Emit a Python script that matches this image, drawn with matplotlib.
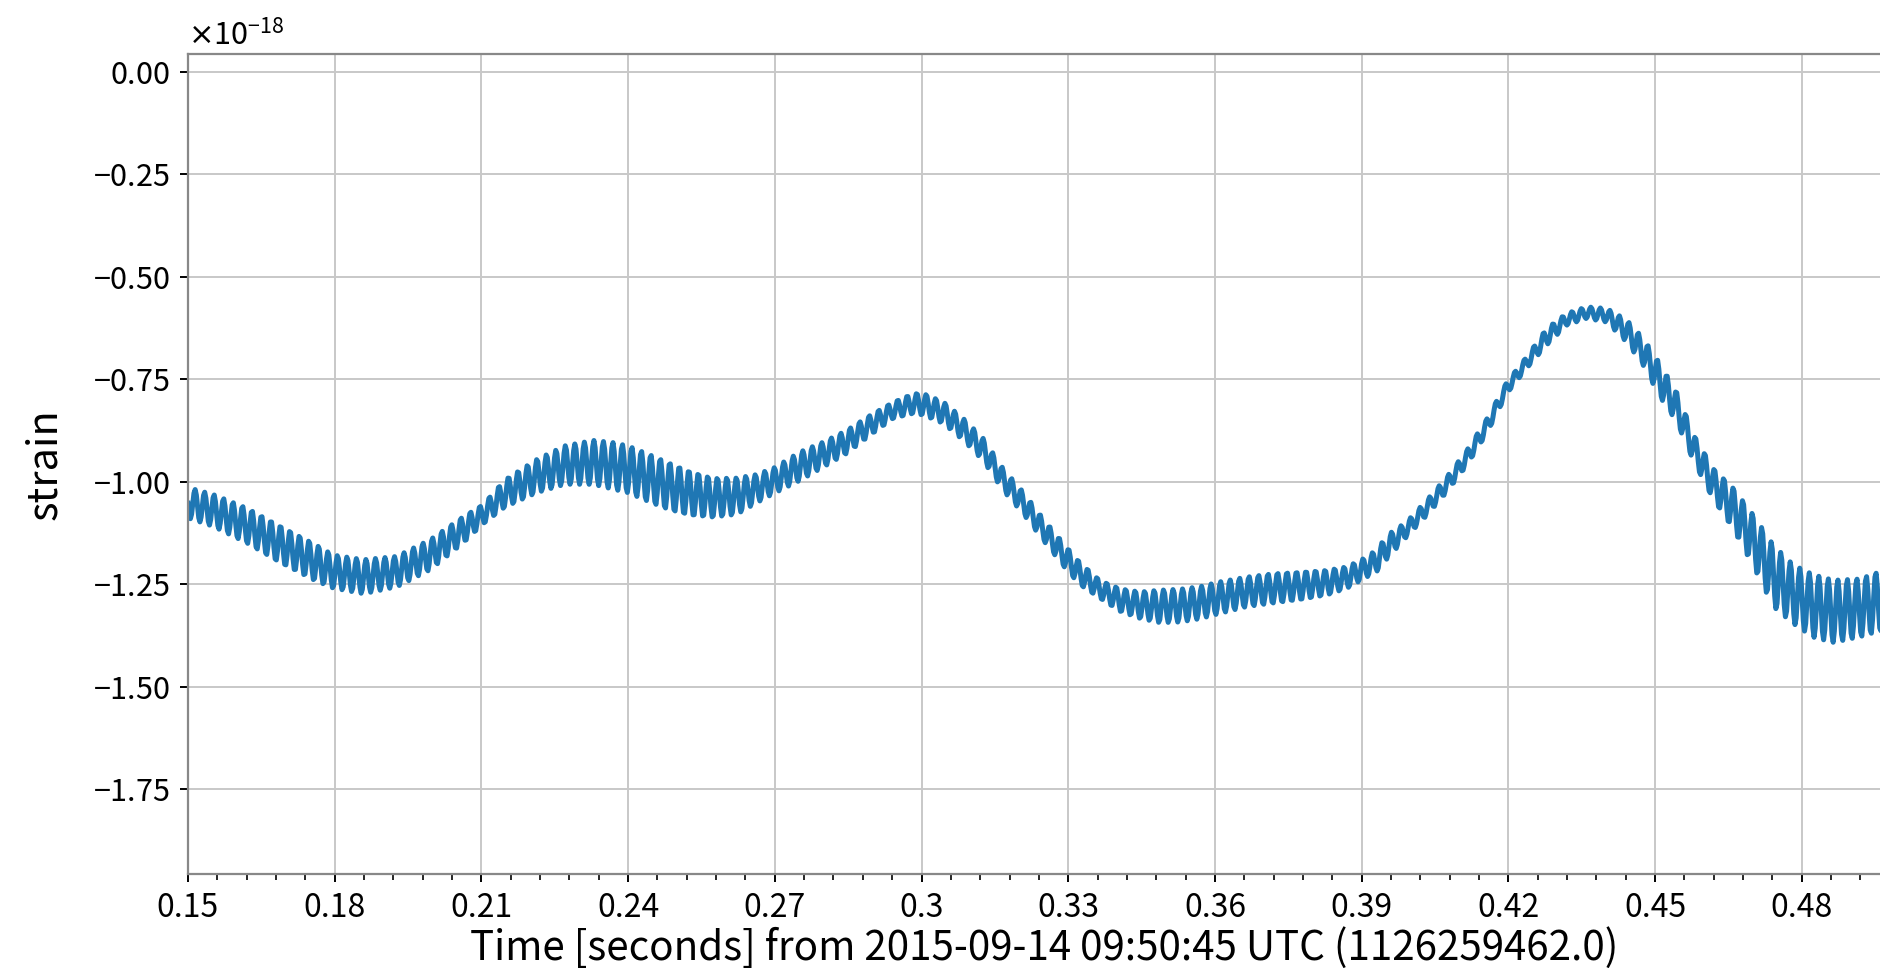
import matplotlib
matplotlib.use("Agg")
import matplotlib.pyplot as plt
from matplotlib.ticker import MultipleLocator, FuncFormatter, ScalarFormatter
import numpy as np

plt.rcParams['font.family'] = ['Noto Sans CJK JP', 'DejaVu Sans']

# envelope of the strain trace (units of 1e-18)
knot_t = [0.1500, 0.1552, 0.1620, 0.1688, 0.1756, 0.1797, 0.1859, 0.1927, 0.1995, 0.2063,
          0.2103, 0.2148, 0.2213, 0.2271, 0.2329, 0.2369, 0.2400, 0.2445, 0.2486, 0.2527,
          0.2574, 0.2622, 0.2663, 0.2700, 0.2752, 0.2799, 0.2847, 0.2895, 0.2942, 0.2983,
          0.3004, 0.3045, 0.3086, 0.3126, 0.3167, 0.3208, 0.3249, 0.3297, 0.3324, 0.3365,
          0.3406, 0.3447, 0.3488, 0.3529, 0.3569, 0.3610, 0.3665, 0.3719, 0.3774, 0.3829,
          0.3870, 0.3911, 0.3934, 0.3951, 0.3992, 0.4033, 0.4074, 0.4115, 0.4156, 0.4197,
          0.4237, 0.4278, 0.4319, 0.4360, 0.4401, 0.4442, 0.4476, 0.4510, 0.4544, 0.4580,
          0.4619, 0.4660, 0.4701, 0.4742, 0.4783, 0.4824, 0.4865, 0.4919, 0.4956, 0.4975]
upper = [-1.008, -1.025, -1.057, -1.100, -1.143, -1.172, -1.184, -1.176, -1.135, -1.078,
         -1.049, -0.988, -0.939, -0.906, -0.893, -0.898, -0.906, -0.927, -0.947, -0.967,
         -0.984, -0.984, -0.976, -0.959, -0.921, -0.897, -0.868, -0.831, -0.799, -0.778,
         -0.778, -0.799, -0.840, -0.888, -0.962, -1.019, -1.084, -1.153, -1.190, -1.234,
         -1.254, -1.262, -1.258, -1.256, -1.250, -1.238, -1.226, -1.217, -1.213, -1.209,
         -1.201, -1.177, -1.156, -1.125, -1.092, -1.039, -0.982, -0.917, -0.840, -0.750,
         -0.689, -0.620, -0.583, -0.567, -0.571, -0.599, -0.644, -0.705, -0.774, -0.880,
         -0.960, -1.008, -1.074, -1.148, -1.197, -1.221, -1.234, -1.230, -1.213, -1.205]
lower = [-1.094, -1.115, -1.156, -1.205, -1.246, -1.266, -1.279, -1.262, -1.221, -1.156,
         -1.110, -1.069, -1.033, -1.012, -1.012, -1.024, -1.033, -1.057, -1.077, -1.090,
         -1.094, -1.086, -1.057, -1.033, -1.002, -0.970, -0.937, -0.893, -0.852, -0.840,
         -0.844, -0.864, -0.905, -0.954, -1.027, -1.084, -1.149, -1.222, -1.258, -1.291,
         -1.323, -1.340, -1.350, -1.348, -1.340, -1.327, -1.311, -1.303, -1.295, -1.283,
         -1.266, -1.238, -1.222, -1.195, -1.140, -1.088, -1.031, -0.966, -0.888, -0.791,
         -0.730, -0.673, -0.624, -0.607, -0.616, -0.665, -0.722, -0.799, -0.860, -0.960,
         -1.050, -1.123, -1.213, -1.311, -1.352, -1.385, -1.398, -1.385, -1.373, -1.370]
ripple_hz = 515.0      # fast ripple, counted between grid lines
ripple_peak_t = 0.2097  # one ripple crest
sample_rate = 4096

t = np.arange(0.15, 0.4975, 1.0 / sample_rate)
hi = np.interp(t, knot_t, upper)
lo = np.interp(t, knot_t, lower)
mid = (hi + lo) / 2
half = (hi - lo) / 2 - 0.006  # edges were read at the outside of the stroke
strain = (mid + half * np.cos(2 * np.pi * ripple_hz * (t - ripple_peak_t))) * 1e-18

fig = plt.figure(figsize=(9.4, 4.84), dpi=200)
ax = fig.add_axes([0.1, 0.0971, 0.9104, 0.8471])
ax.plot(t, strain, color='#1f77b4', lw=1.8)

ax.set_xlim(0.15, 0.50)
ax.set_ylim(-1.957e-18, 0.044e-18)
ax.xaxis.set_major_locator(MultipleLocator(0.03))
ax.xaxis.set_minor_locator(MultipleLocator(0.006))
ax.xaxis.set_major_formatter(FuncFormatter(lambda v, p: '%g' % round(v, 4)))
ax.yaxis.set_major_locator(MultipleLocator(0.25e-18))
yfmt = ScalarFormatter(useMathText=True)
ax.yaxis.set_major_formatter(yfmt)
ax.grid(True, which='major', color='#c8c8c8', lw=0.7)
ax.set_axisbelow(True)
for s in ax.spines.values():
    s.set_color('#888888')
    s.set_linewidth(0.8)
ax.tick_params(which='major', length=3, width=0.7, labelsize=11)
ax.tick_params(axis='x', which='major', labelsize=11.5)
ax.tick_params(which='minor', length=2, width=0.6)
ax.yaxis.get_offset_text().set_fontsize(11)

ax.set_xlabel('Time [seconds] from 2015-09-14 09:50:45 UTC (1126259462.0)', fontsize=14.5, labelpad=1)
ax.set_ylabel('strain', fontsize=15, labelpad=10)

fig.savefig('out.png', dpi=200)
